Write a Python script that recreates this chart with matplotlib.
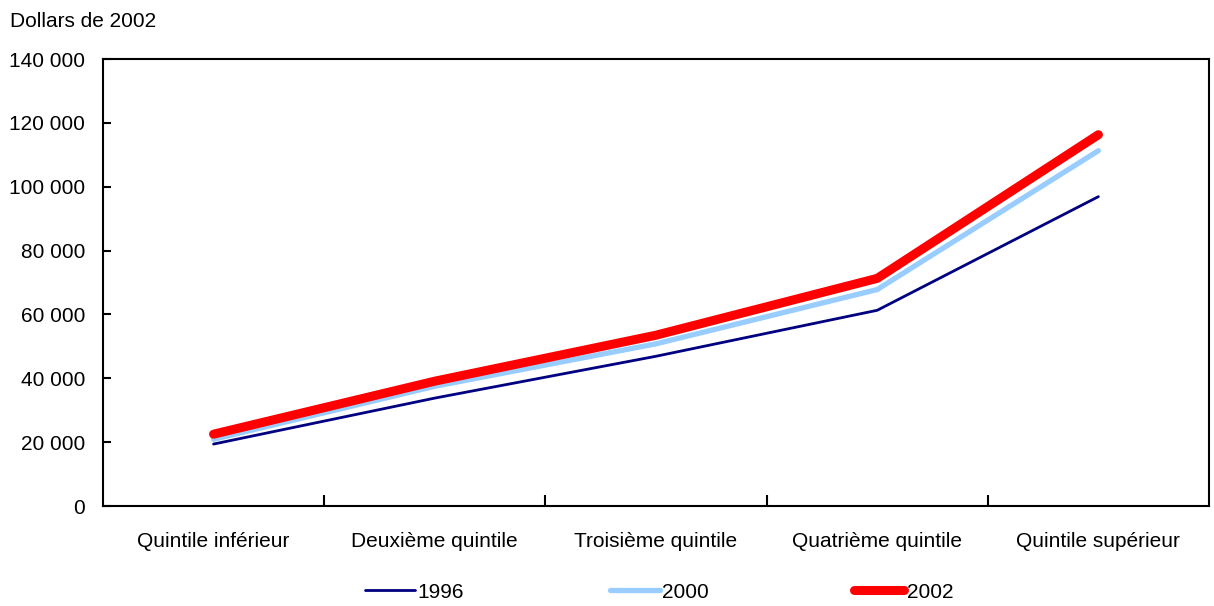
import matplotlib
matplotlib.use("Agg")
import matplotlib.pyplot as plt
from matplotlib.ticker import FuncFormatter, FixedLocator

plt.rcParams["font.family"] = ["Liberation Sans", "DejaVu Sans"]

categories = ["Quintile inférieur", "Deuxième quintile", "Troisième quintile",
              "Quatrième quintile", "Quintile supérieur"]
v1996 = [19400, 33800, 46900, 61300, 96900]
v2000 = [20900, 37500, 50800, 67800, 111300]
v2002 = [22500, 39100, 53500, 71300, 116300]

fig = plt.figure(figsize=(12.14, 6.06), dpi=100)
ax = fig.add_axes([0.0848, 0.165, 0.9111, 0.7376])

x = range(len(categories))
ax.plot(x, v1996, color="#000080", lw=2.0, label="1996", solid_capstyle="round")
ax.plot(x, v2000, color="#99CCFF", lw=3.8, label="2000", solid_capstyle="round")
ax.plot(x, v2002, color="#FF0000", lw=6.5, label="2002", solid_capstyle="round")

ax.set_xlim(-0.5, len(categories) - 0.5)
ax.set_ylim(0, 140000)
ax.set_yticks(range(0, 140001, 20000))
ax.yaxis.set_major_formatter(FuncFormatter(lambda v, p: f"{int(v):,}".replace(",", " ")))
ax.set_xticks(list(x))
ax.set_xticklabels(categories)
ax.xaxis.set_minor_locator(FixedLocator([i + 0.5 for i in range(len(categories) - 1)]))
ax.tick_params(axis="x", which="major", length=0, pad=19, labelsize=15)
ax.tick_params(axis="x", which="minor", direction="in", length=8, width=1.5)
ax.tick_params(axis="y", direction="in", length=6, width=1.5, pad=13, labelsize=15)
for s in ax.spines.values():
    s.set_linewidth(1.5)

fig.text(0.008, 0.965, "Dollars de 2002", fontsize=15, va="center")

fig.legend(loc="center", bbox_to_anchor=(0.543, 0.023), ncol=3, frameon=False,
           fontsize=15, handlelength=2.4, handletextpad=0.1, columnspacing=7.0)

fig.savefig("out.png", dpi=100)
